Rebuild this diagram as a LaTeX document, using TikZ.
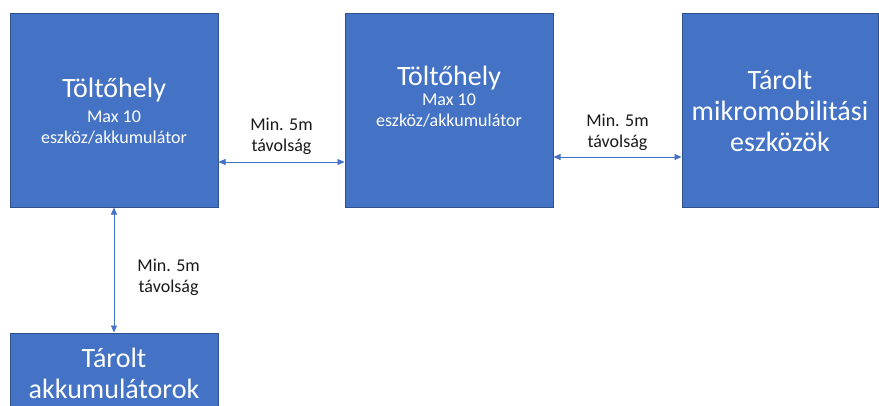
\documentclass[tikz,border=0pt]{standalone}
\usepackage{fontspec}
\setmainfont{Carlito}
\usetikzlibrary{arrows.meta,positioning,calc}
\definecolor{boxfill}{HTML}{4472C4}
\definecolor{boxline}{HTML}{2F528F}

\begin{document}
\begin{tikzpicture}[
    x=1pt, y=-1pt,
    box/.style={draw=boxline, fill=boxfill, line width=1pt, minimum width=208pt, minimum height=194pt, inner sep=0pt},
    txt/.style={text=white, align=center, inner sep=0pt, font=\fontsize{18}{21}\selectfont},
    bigtxt/.style={text=white, align=center, inner sep=0pt, font=\fontsize{28}{31}\selectfont},
    arr/.style={{Triangle[length=7pt,width=6pt]}-{Triangle[length=7pt,width=6pt]}, boxfill, line width=0.75pt},
    lbl/.style={align=center, inner sep=0pt, text=black!90, font=\fontsize{18}{21}\selectfont}
]
\useasboundingbox (0,0) rectangle (879,405);
\clip (0,0) rectangle (879,405);

\node[box] (hely1) at (114,110) {};
\node[box] (hely2) at (449,110) {};
\node[box, minimum width=196pt] (eszk) at (780,110) {};
\node[box, minimum height=120pt] (akku) at (114,393) {};

\node[txt] (hely1txt) at (114,111) {{\fontsize{28}{31}\selectfont Töltőhely}\\[4pt]Max 10\\eszköz/akkumulátor};
\node[txt] (hely2txt) at (449,97) {{\fontsize{28}{31}\selectfont Töltőhely}\\[-1pt]Max 10\\eszköz/akkumulátor};
\node[bigtxt] (eszktxt) at (780,111) {Tárolt\\mikromobilitási\\eszközök};
\node[bigtxt] (akkutxt) at (114,373) {Tárolt\\akkumulátorok};

\draw[arr] ([yshift=-52pt]hely1.east) -- node[lbl, anchor=south, yshift=7pt] (tav1) {Min. 5m\\távolság} ([yshift=-52pt]hely2.west);
\draw[arr] ([yshift=-47pt]hely2.east) -- node[lbl, anchor=south, yshift=6pt] (tav2) {Min. 5m\\távolság} ([yshift=-47pt]eszk.west);
\draw[arr] (hely1.south) -- node[lbl, anchor=west, xshift=23pt, yshift=-7pt] (tav3) {Min. 5m\\távolság} (akku.north);
\end{tikzpicture}
\end{document}
